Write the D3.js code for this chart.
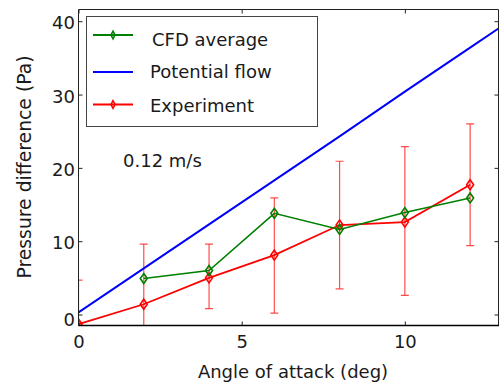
<!DOCTYPE html>
<html>
<head>
<meta charset="utf-8">
<script src="https://cdn.jsdelivr.net/npm/d3@7"></script>
<style>
  html, body { margin: 0; padding: 0; background: #fff; }
  svg text { font-family: "DejaVu Sans", sans-serif; fill: #1a1a1a; }
</style>
</head>
<body>
<svg id="chart" width="499" height="389"></svg>
<script>
// ---- data ----
const xTicks = [0, 5, 10];
const yTicks = [0, 10, 20, 30, 40];

const cfdAngles = [2, 4, 6, 8, 10, 12];
const cfdValues = [4.9, 6.0, 13.8, 11.6, 13.9, 15.9];

const potAngles = [0, 2, 4, 6, 8, 10, 12, 13];
const potValues = [0.3, 6.3, 12.3, 18.3, 24.3, 30.4, 36.4, 39.4];

const expAngles = [0, 2, 4, 6, 8, 10, 12];
const expValues = [-1.3, 1.4, 5.0, 8.1, 12.2, 12.6, 17.7];
const expLow    = [-7.3, -6.8, 0.8, 0.2, 3.5, 2.6, 9.4];
const expHigh   = [4.7, 9.6, 9.6, 15.9, 20.9, 22.9, 26.0];

const seriesNames = ["CFD average", "Potential flow", "Experiment"];
const seriesColors = ["#008000", "#0000ff", "#ff0000"];
const noteText = "0.12 m/s";
const xLabel = "Angle of attack (deg)";
const yLabel = "Pressure difference (Pa)";

(function () {
// ---- layout ----
const L = 78.5, R = 499.5, T = 9.5, B = 325.5;
const svg = d3.select("#chart");
const x = d3.scaleLinear().domain([0, 12.9]).range([L, R]);
const y = d3.scaleLinear().domain([-1.5, 41.6]).range([B, T]);

svg.append("defs").append("clipPath").attr("id", "clip")
  .append("rect").attr("x", L).attr("y", T).attr("width", R - L).attr("height", B - T);

const plot = svg.append("g").attr("clip-path", "url(#clip)");

const diamond = (hw, hh) => `M0,${-hh}L${hw},0L0,${hh}L${-hw},0Z`;

// error bars
const expData = expAngles.map((a, i) => ({a, v: expValues[i], lo: expLow[i], hi: expHigh[i]}));
const eb = plot.append("g").attr("stroke", "#ff2020").attr("stroke-opacity", 0.8).attr("stroke-width", 1.2).attr("fill", "none");
expData.forEach(d => {
  eb.append("line").attr("x1", x(d.a)).attr("x2", x(d.a)).attr("y1", y(d.lo)).attr("y2", y(d.hi));
  eb.append("line").attr("x1", x(d.a) - 4).attr("x2", x(d.a) + 4).attr("y1", y(d.lo)).attr("y2", y(d.lo));
  eb.append("line").attr("x1", x(d.a) - 4).attr("x2", x(d.a) + 4).attr("y1", y(d.hi)).attr("y2", y(d.hi));
});

const line = d3.line().x(d => x(d[0])).y(d => y(d[1]));

// potential flow
plot.append("path").datum(potAngles.map((a, i) => [a, potValues[i]]))
  .attr("d", line).attr("fill", "none").attr("stroke", seriesColors[1]).attr("stroke-width", 2);

// experiment
plot.append("path").datum(expAngles.map((a, i) => [a, expValues[i]]))
  .attr("d", line).attr("fill", "none").attr("stroke", seriesColors[2]).attr("stroke-width", 1.8);
plot.selectAll(".expm").data(expData).enter().append("path")
  .attr("transform", d => `translate(${x(d.a)},${y(d.v)})`)
  .attr("d", diamond(3.5, 5)).attr("fill", "none").attr("stroke", seriesColors[2]).attr("stroke-width", 1.6);

// CFD
plot.append("path").datum(cfdAngles.map((a, i) => [a, cfdValues[i]]))
  .attr("d", line).attr("fill", "none").attr("stroke", seriesColors[0]).attr("stroke-width", 1.6);
plot.selectAll(".cfdm").data(cfdAngles.map((a, i) => ({a, v: cfdValues[i]}))).enter().append("path")
  .attr("transform", d => `translate(${x(d.a)},${y(d.v)})`)
  .attr("d", diamond(3.5, 5)).attr("fill", "none").attr("stroke", seriesColors[0]).attr("stroke-width", 1.6);

// ---- axes ----
const ax = svg.append("g");
const gBottom = ax.append("g").attr("transform", `translate(0,${B})`)
  .call(d3.axisBottom(x).tickValues(xTicks).tickSize(-4).tickPadding(10).tickFormat(d3.format("d")));
const gLeft = ax.append("g").attr("transform", `translate(${L},0)`)
  .call(d3.axisLeft(y).tickValues(yTicks).tickSize(-4).tickPadding(3.5).tickFormat(d3.format("d")));
const gTop = ax.append("g").attr("transform", `translate(0,${T})`)
  .call(d3.axisTop(x).tickValues(xTicks).tickSize(-4).tickFormat(""));
const gRight = ax.append("g").attr("transform", `translate(${R - 1},0)`)
  .call(d3.axisRight(y).tickValues(yTicks).tickSize(-4).tickFormat(""));
[gBottom, gLeft, gTop, gRight].forEach(g => {
  g.select(".domain").remove();
  g.selectAll("line").attr("stroke", "#222");
  g.selectAll("text").attr("font-size", 18).attr("font-family", "DejaVu Sans").attr("fill", "#1a1a1a");
});
gLeft.selectAll(".tick text").attr("dy", d => d === 0 ? "0.62em" : "0.42em");

// frame
svg.append("path")
  .attr("d", `M${L},${T}H${R - 1}V${B}H${L}Z`)
  .attr("fill", "none").attr("stroke", "#222").attr("stroke-width", 1);
svg.append("line").attr("x1", L).attr("x2", R).attr("y1", B).attr("y2", B).attr("stroke", "#000").attr("stroke-width", 1.4);

// axis labels
svg.append("text").attr("x", 293).attr("y", 378).attr("text-anchor", "middle")
  .attr("font-size", 18).text(xLabel);
svg.append("text").attr("transform", "translate(31,167) rotate(-90)").attr("text-anchor", "middle")
  .attr("font-size", 18.8).text(yLabel);

// note
svg.append("text").attr("x", 123).attr("y", 166.5).attr("font-size", 18).text(noteText);

// ---- legend ----
const lg = svg.append("g");
lg.append("rect").attr("x", 86.5).attr("y", 16.5).attr("width", 231).attr("height", 110)
  .attr("fill", "#fff").attr("stroke", "#444").attr("stroke-width", 1);
const rowsLineY = [35, 72, 104.5];
const rowsTextY = [45.5, 78.3, 111.5];
const rowsTextX = [152, 150, 150];
const hasMarker = [true, false, true];
seriesNames.forEach((name, i) => {
  lg.append("line").attr("x1", 93).attr("x2", 133).attr("y1", rowsLineY[i]).attr("y2", rowsLineY[i])
    .attr("stroke", seriesColors[i]).attr("stroke-width", i === 1 ? 2 : 1.8);
  if (hasMarker[i]) {
    lg.append("path").attr("transform", `translate(113,${rowsLineY[i]})`)
      .attr("d", diamond(2, 3.8)).attr("fill", "none").attr("stroke", seriesColors[i]).attr("stroke-width", 1.6);
  }
  lg.append("text").attr("x", rowsTextX[i]).attr("y", rowsTextY[i]).attr("font-size", 18).text(name);
});
})();
</script>
</body>
</html>
